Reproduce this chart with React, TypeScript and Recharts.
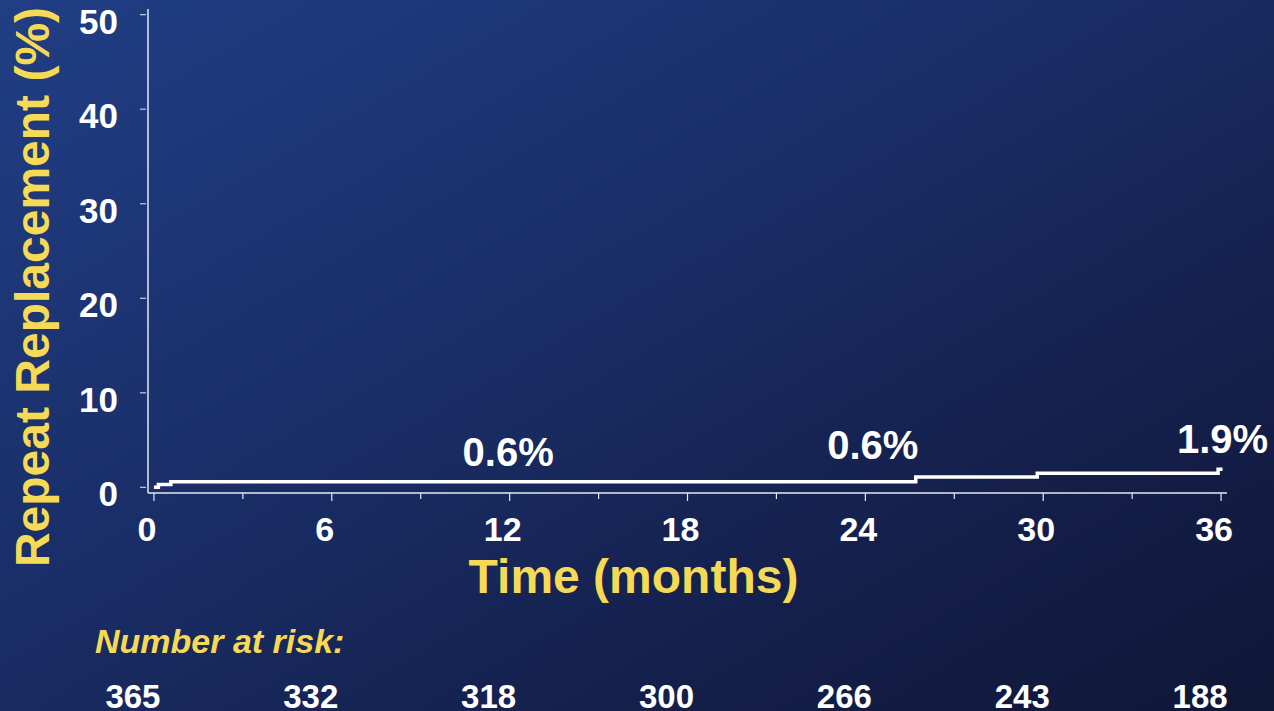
import { Line, LineChart, ReferenceDot, XAxis, YAxis } from 'recharts';

// Kaplan-Meier style step curve: repeat valve replacement over 36 months
const MONTHS = [0, 0.15, 0.57, 25.7, 29.8, 35.9, 36.05];
const REPEAT_PCT = [0, 0.3, 0.6, 1.1, 1.5, 1.9, 1.9];

const X_TICKS = [0, 3, 6, 9, 12, 15, 18, 21, 24, 27, 30, 33, 36];
const Y_TICKS = [0, 10, 20, 30, 40, 50];

const RISK_MONTHS = [0, 6, 12, 18, 24, 30, 36];
const NUMBER_AT_RISK = [365, 332, 318, 300, 266, 243, 188];

const ANNOT_MONTHS = [11.95, 24.25, 36.05];
const ANNOT_PCT = [2.3, 3.0, 3.65];
const ANNOT_TEXT = ['0.6%', '0.6%', '1.9%'];

const data = MONTHS.map((m, i) => ({ month: m, pct: REPEAT_PCT[i] }));

const FONT = '"Liberation Sans", Arial, sans-serif';
const YELLOW = '#f6da55';
const WHITE = '#ffffff';
const AXIS = '#e6eaf2';

function XTick(props: any) {
  const { x, y, payload } = props;
  const major = payload.value % 6 === 0;
  return (
    <g>
      <line x1={x} y1={y} x2={x} y2={y + (major ? 8 : 6)} stroke={AXIS} strokeWidth={1.2} />
      {major && (
        <text x={x - 7} y={y + 48} textAnchor="middle" fill={WHITE} fontFamily={FONT} fontWeight="bold" fontSize={34}>
          {payload.value}
        </text>
      )}
    </g>
  );
}

function YTick(props: any) {
  const { x, y, payload } = props;
  return (
    <g>
      <line x1={x - 8} y1={y} x2={x - 2} y2={y} stroke="#c8cedb" strokeWidth={1.2} />
      <text x={x - 30} y={y + 19} textAnchor="end" fill={WHITE} fontFamily={FONT} fontWeight="bold" fontSize={35}>
        {payload.value}
      </text>
    </g>
  );
}

function RiskTick(props: any) {
  const { x, y, payload } = props;
  const idx = RISK_MONTHS.indexOf(payload.value);
  if (idx < 0) return <g />;
  return (
    <text x={x - 21} y={y + 95} textAnchor="middle" fill={WHITE} fontFamily={FONT} fontWeight="bold" fontSize={33}>
      {NUMBER_AT_RISK[idx]}
    </text>
  );
}

export default function App() {
  return (
    <div
      style={{
        position: 'fixed',
        left: 0,
        top: 0,
        width: 1274,
        height: 711,
        background: 'linear-gradient(150deg, #213e85 0%, #1a2f69 40%, #141f4a 75%, #0f1736 100%)',
      }}
    >
      <LineChart width={1274} height={711} data={data} margin={{ top: 9, right: 47, bottom: 0, left: 0 }}>
        <XAxis
          dataKey="month"
          type="number"
          domain={[-0.2, 36.2]}
          ticks={X_TICKS}
          interval={0}
          height={120}
          tickSize={0}
          tickMargin={0}
          axisLine={{ stroke: AXIS, strokeWidth: 1.5 }}
          tickLine={false}
          tick={<XTick />}
          label={{
            content: (p: any) => (
              <text
                x={p.viewBox.x + p.viewBox.width / 2 - 54}
                y={p.viewBox.y + 100}
                textAnchor="middle"
                fill={YELLOW}
                fontFamily={FONT}
                fontWeight="bold"
                fontSize={48}
              >
                Time (months)
              </text>
            ),
          }}
        />
        <XAxis
          xAxisId="risk"
          dataKey="month"
          type="number"
          domain={[-0.2, 36.2]}
          ticks={RISK_MONTHS}
          interval={0}
          height={98}
          tickSize={0}
          tickMargin={0}
          axisLine={false}
          tickLine={false}
          tick={<RiskTick />}
          label={{
            content: (p: any) => (
              <text
                x={95}
                y={p.viewBox.y + 40}
                textAnchor="start"
                fill={YELLOW}
                fontFamily={FONT}
                fontWeight="bold"
                fontStyle="italic"
                fontSize={34}
              >
                Number at risk:
              </text>
            ),
          }}
        />
        <YAxis
          type="number"
          domain={[-0.6, 50.6]}
          ticks={Y_TICKS}
          interval={0}
          width={148}
          tickSize={0}
          tickMargin={0}
          axisLine={{ stroke: AXIS, strokeWidth: 1.5 }}
          tickLine={false}
          tick={<YTick />}
          label={{
            content: (p: any) => {
              const cx = 32;
              const cy = p.viewBox.y + p.viewBox.height / 2 + 36;
              return (
                <text
                  x={cx}
                  y={cy}
                  transform={`rotate(-90 ${cx} ${cy})`}
                  textAnchor="middle"
                  dominantBaseline="central"
                  fill={YELLOW}
                  fontFamily={FONT}
                  fontWeight="bold"
                  fontSize={48}
                >
                  Repeat Replacement (%)
                </text>
              );
            },
          }}
        />
        <Line
          type="stepAfter"
          dataKey="pct"
          stroke={WHITE}
          strokeWidth={3.5}
          dot={false}
          isAnimationActive={false}
        />
        {ANNOT_TEXT.map((t, i) => (
          <ReferenceDot
            key={t + i}
            x={ANNOT_MONTHS[i]}
            y={ANNOT_PCT[i]}
            r={0}
            fill="none"
            stroke="none"
            label={{
              content: (p: any) => (
                <text
                  x={p.viewBox.x + (p.viewBox.width || 0) / 2}
                  y={p.viewBox.y + (p.viewBox.height || 0) / 2}
                  textAnchor="middle"
                  fill={WHITE}
                  fontFamily={FONT}
                  fontWeight="bold"
                  fontSize={40}
                >
                  {t}
                </text>
              ),
            }}
          />
        ))}
      </LineChart>
    </div>
  );
}
